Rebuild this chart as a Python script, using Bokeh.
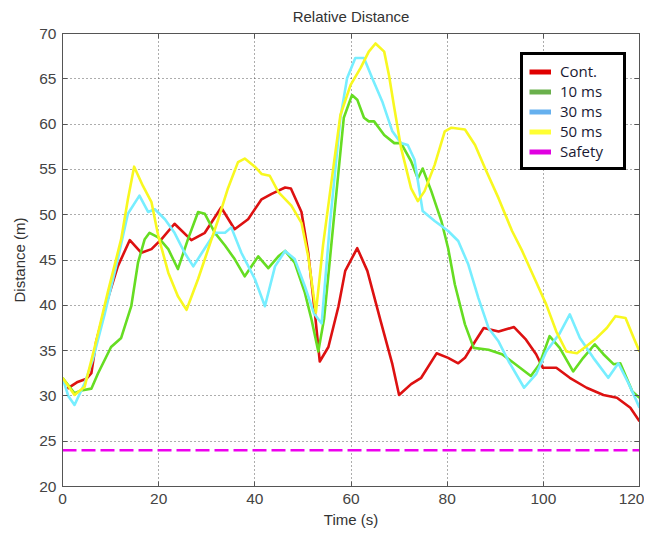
from bokeh.plotting import figure
from bokeh.models import Range1d, LinearAxis, Legend, LegendItem, FixedTicker, PrintfTickFormatter
from bokeh.embed import file_html
from bokeh.resources import INLINE

# ---- data ----
t_cont = [1, 3, 5, 6, 7, 9, 11.5, 14, 16.4, 18.5, 20.6, 23.3, 26.8, 29.6, 33, 35.8, 38.6, 41.4, 43.5, 46.3, 47.5,
          49.7, 51.1, 52.5, 53.5, 55.3, 57.4, 58.8, 60.5, 61.3, 63.4, 66.2, 68.6, 70, 72.5, 74.6, 77.8, 80.2, 82.3,
          83.7, 85.8, 87.6, 90.7, 93.9, 96.4, 98.5, 99.9, 102.7, 105.5, 109, 112.5, 115.3, 118.1, 120]
d_cont = [30.8, 31.5, 31.9, 32.5, 36, 40, 44.3, 47.2, 45.8, 46.2, 47.3, 49.0, 47.2, 48.0, 50.8, 48.4, 49.5, 51.7,
          52.3, 53.0, 52.9, 50.3, 45.8, 39.1, 33.8, 35.4, 39.9, 43.8, 45.5, 46.3, 43.8, 38.2, 33.5, 30.1, 31.3, 32.0,
          34.7, 34.2, 33.6, 34.2, 36.0, 37.5, 37.1, 37.6, 36.2, 34.6, 33.1, 33.1, 32.0, 30.9, 30.1, 29.8, 28.7, 27.2]

t_10 = [0, 2.5, 3.9, 6, 7.4, 10.1, 12.2, 14.3, 15.7, 17.1, 18.1, 19.9, 22, 24, 26.1, 28.2, 29.6, 31.7, 33.8, 35.8,
        37.9, 40.7, 42.8, 44.9, 46.3, 48.3, 50.4, 51.8, 53.2, 54.4, 55.6, 56.7, 58.5, 60.2, 61.3, 62.7, 63.7, 64.8,
        66.9, 69, 70.4, 72.5, 73.9, 74.9, 76.7, 78.8, 80.2, 81.6, 83.7, 85.5, 88.6, 91.4, 94.2, 97.4, 99.2, 101.3,
        103.4, 106.2, 108.3, 110.7, 112.5, 114.6, 116, 118.5, 120]
d_10 = [32, 30.3, 30.6, 30.8, 32.5, 35.4, 36.4, 39.9, 44.7, 47.3, 48.0, 47.5, 46.2, 44.0, 47.3, 50.3, 50.1, 48.0,
        46.6, 45.1, 43.2, 45.4, 44.1, 45.4, 46.0, 44.7, 41.4, 38.4, 34.9, 38.5, 45.0, 51.0, 60.7, 63.2, 62.7, 60.7,
        60.3, 60.3, 58.8, 57.9, 57.9, 55.9, 54.0, 55.1, 52.6, 49.3, 46.3, 42.3, 37.9, 35.3, 35.1, 34.6, 33.5, 32.2,
        33.5, 36.6, 35.3, 32.7, 34.2, 35.7, 34.6, 33.5, 33.6, 30.5, 29.8]

t_30 = [0, 1.2, 2.5, 4.6, 6.3, 8.8, 11.5, 13.6, 16, 17.8, 19.2, 21.3, 23.3, 25.4, 27.2, 29, 31.7, 33.8, 35.1, 37.2,
        40, 42.1, 44.2, 46.3, 48.3, 50.4, 52.3, 53.9, 55.6, 57.8, 59.2, 60.9, 62.7, 64.4, 66.5, 68.6, 70.4, 71.8,
        73.2, 74.9, 77.4, 80.2, 82.3, 84.4, 86.5, 88.6, 90.7, 92.8, 96, 98.5, 100.6, 103.4, 105.5, 107.6, 110.4,
        113.5, 115.6, 117.8, 120]
d_30 = [32, 30, 29, 31.4, 34, 39.1, 45.1, 50.1, 52.1, 50.3, 50.6, 49.5, 48, 45.8, 44.3, 45.8, 48, 48, 48.6, 45.8,
        42.9, 39.9, 44.3, 46.0, 45.1, 42.1, 39.1, 38.0, 48.9, 60.7, 65.1, 67.3, 67.3, 65.1, 62.5, 59.2, 57.9, 57.7,
        56.1, 50.4, 49.3, 48.2, 47.1, 44.5, 40.8, 37.5, 36.0, 33.8, 30.9, 32.4, 34.9, 36.9, 39, 36.4, 34.2, 32,
        33.6, 31.3, 28.7]

t_50 = [0, 2.5, 4.6, 6.7, 9.4, 12.2, 13.6, 14.9, 16.7, 18.5, 19.9, 22, 24, 25.8, 28.2, 30.3, 32.4, 34.4, 36.5,
        37.9, 40, 41.4, 43.1, 44.9, 47.6, 49.7, 51.1, 52.7, 54.2, 56.4, 57.8, 59.9, 62, 63.7, 65.1, 66.9, 67.9, 69,
        70.4, 72.5, 73.9, 75.3, 77.4, 79.5, 80.9, 83.7, 85.8, 87.9, 90.7, 93.5, 95.6, 97.8, 100.6, 102.7, 104.8,
        107, 109, 111.1, 113.2, 115, 117.1, 118.8, 120]
d_50 = [32, 30.1, 31, 35.4, 41.4, 47.3, 51.7, 55.3, 53.2, 51.4, 47.7, 43.6, 41, 39.5, 42.9, 46.2, 49.5, 52.9, 55.8,
        56.2, 55.3, 54.5, 54.3, 52.5, 51, 49.1, 45.4, 39.2, 46.7, 55.5, 61, 64.3, 66.2, 68, 68.9, 68, 65.4, 61.8,
        57.4, 52.9, 51.5, 52.6, 55.5, 59.2, 59.6, 59.4, 57.7, 55.1, 51.8, 48.2, 46, 43.4, 40.1, 37.1, 34.9, 34.7,
        35.5, 36.4, 37.5, 38.8, 38.6, 36.4, 34.9]

t_safety = [0, 120]
d_safety = [24, 24]

labels = ["Cont.", "10 ms", "30 ms", "50 ms", "Safety"]
x_ticks = [0, 20, 40, 60, 80, 100, 120]
y_ticks = [20, 25, 30, 35, 40, 45, 50, 55, 60, 65, 70]

line_colors = ["#dd1111", "#66dd22", "#77eeff", "#f8f820", "#ee00ee"]
legend_colors = ["#e00000", "#6ab04c", "#66b0ee", "#ffff33", "#e000e0"]

FONT = "Liberation Sans"

p = figure(frame_width=577, frame_height=453, output_backend="svg", toolbar_location=None,
           x_range=Range1d(0, 120), y_range=Range1d(20, 70),
           min_border_left=62, min_border_top=32, min_border_right=5, min_border_bottom=40,
           title="Relative Distance", x_axis_label="Time (s)", y_axis_label="Distance (m)",
           background_fill_color="white", border_fill_color="white")

p.title.align = "center"
p.title.text_font = FONT
p.title.text_font_size = "15px"
p.title.text_font_style = "normal"
p.title.text_color = "#333333"

p.outline_line_color = "#555555"
p.outline_line_width = 1

for ax in (p.xaxis[0], p.yaxis[0]):
    ax.axis_label_text_font = FONT
    ax.axis_label_text_font_size = "15px"
    ax.axis_label_text_font_style = "normal"
    ax.axis_label_text_color = "#333333"
    ax.major_label_text_font = FONT
    ax.major_label_text_font_size = "15.5px"
    ax.major_label_text_color = "#444444"
    ax.major_tick_in = 5
    ax.major_tick_out = 0
    ax.minor_tick_in = 0
    ax.minor_tick_out = 0
    ax.axis_line_color = "#555555"
    ax.major_tick_line_color = "#555555"
p.xaxis[0].ticker = FixedTicker(ticks=x_ticks)
p.yaxis[0].ticker = FixedTicker(ticks=y_ticks)
p.xaxis[0].major_label_standoff = 7
p.yaxis[0].major_label_standoff = 6
p.xaxis[0].axis_label_standoff = 4
p.yaxis[0].axis_label_standoff = 8

# mirror axes (ticks only) on top and right
ax_r = LinearAxis(ticker=FixedTicker(ticks=y_ticks), formatter=PrintfTickFormatter(format=""))
ax_t = LinearAxis(ticker=FixedTicker(ticks=x_ticks), formatter=PrintfTickFormatter(format=" "))
for ax in (ax_r, ax_t):
    ax.major_tick_in = 5
    ax.major_tick_out = 0
    ax.minor_tick_in = 0
    ax.minor_tick_out = 0
    ax.axis_line_color = "#555555"
    ax.major_tick_line_color = "#555555"
    ax.major_label_text_font_size = "1px"
    ax.major_label_standoff = 0
p.add_layout(ax_r, "right")
p.add_layout(ax_t, "above")

for g in (p.xgrid[0], p.ygrid[0]):
    g.grid_line_color = "#333333"
    g.grid_line_dash = "1 3"
    g.grid_line_width = 1
    g.grid_line_alpha = 0.8
p.xgrid[0].ticker = FixedTicker(ticks=x_ticks)
p.ygrid[0].ticker = FixedTicker(ticks=y_ticks)

series = [(t_cont, d_cont), (t_10, d_10), (t_30, d_30), (t_50, d_50)]
for (tx, dy), c in zip(series, line_colors[:4]):
    p.line(tx, dy, line_color=c, line_width=2.6, line_join="round")
p.line(t_safety, d_safety, line_color=line_colors[4], line_width=2.5, line_dash="14 5")

# legend swatches (thicker, slightly different colours as in the reference)
nan = float("nan")
items = []
for lab, c in zip(labels, legend_colors):
    r = p.line(x=[nan], y=[nan], line_color=c, line_width=5)
    items.append(LegendItem(label=lab, renderers=[r]))

legend = Legend(items=items, location=(458, 316))
legend.border_line_color = "black"
legend.border_line_width = 3
legend.border_line_alpha = 1
legend.background_fill_color = "white"
legend.background_fill_alpha = 1
legend.label_text_font = "Open Sans"
legend.label_text_font_size = "15px"
legend.label_text_color = "#1a1a33"
legend.glyph_width = 22
legend.glyph_height = 19
legend.label_height = 19
legend.label_width = 57
legend.label_standoff = 9
legend.spacing = 0
legend.padding = 6
legend.margin = 0
p.add_layout(legend, "center")

open("out.html", "w").write(file_html(p, INLINE))
